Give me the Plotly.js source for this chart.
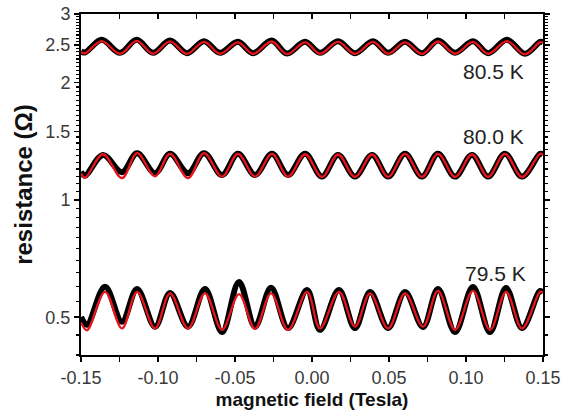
<!DOCTYPE html>
<html>
<head>
<meta charset="utf-8">
<script src="https://cdn.plot.ly/plotly-3.0.1.min.js"></script>
<style>html,body{margin:0;padding:0;background:#fff;}#plot{width:578px;height:416px;}</style>
</head>
<body>
<div id="plot"></div>
<script>
// ---- data ----
const x805 = [-0.15, -0.1474, -0.1366, -0.1247, -0.1138, -0.1032, -0.0922, -0.0812, -0.0701, -0.0597, -0.0481, -0.0383, -0.0262, -0.0162, -0.0045, 0.0052, 0.0169, 0.0279, 0.0396, 0.0494, 0.0604, 0.0714, 0.0818, 0.0929, 0.1045, 0.1143, 0.1266, 0.1383, 0.1481, 0.15];
const black805 = [2.408, 2.390, 2.575, 2.385, 2.575, 2.385, 2.565, 2.380, 2.555, 2.385, 2.545, 2.380, 2.565, 2.375, 2.545, 2.385, 2.555, 2.380, 2.555, 2.385, 2.545, 2.380, 2.565, 2.385, 2.555, 2.380, 2.575, 2.371, 2.545, 2.540];
const red805   = [2.395, 2.378, 2.555, 2.372, 2.560, 2.372, 2.552, 2.370, 2.545, 2.372, 2.538, 2.370, 2.550, 2.366, 2.538, 2.372, 2.545, 2.370, 2.545, 2.372, 2.538, 2.370, 2.550, 2.372, 2.545, 2.370, 2.555, 2.364, 2.540, 2.535];

const x800 = [-0.15, -0.1474, -0.1357, -0.1234, -0.1136, -0.1019, -0.0922, -0.0805, -0.0701, -0.0584, -0.0481, -0.0370, -0.0260, -0.0156, -0.0045, 0.0065, 0.0169, 0.0279, 0.0390, 0.0494, 0.0604, 0.0714, 0.0818, 0.0929, 0.1039, 0.1143, 0.1253, 0.1364, 0.1481, 0.15];
const black800 = [1.182, 1.155, 1.305, 1.178, 1.318, 1.171, 1.313, 1.171, 1.318, 1.159, 1.313, 1.159, 1.313, 1.159, 1.313, 1.148, 1.305, 1.148, 1.305, 1.148, 1.313, 1.148, 1.313, 1.148, 1.305, 1.148, 1.313, 1.148, 1.313, 1.310];
const red800   = [1.170, 1.140, 1.310, 1.137, 1.318, 1.150, 1.313, 1.137, 1.318, 1.148, 1.313, 1.148, 1.313, 1.148, 1.310, 1.145, 1.308, 1.145, 1.308, 1.145, 1.313, 1.145, 1.313, 1.145, 1.308, 1.145, 1.313, 1.145, 1.313, 1.305];

const x795 = [-0.15, -0.1461, -0.1344, -0.1234, -0.1136, -0.1019, -0.0922, -0.0805, -0.0695, -0.0584, -0.0474, -0.0370, -0.0266, -0.0156, -0.0032, 0.0052, 0.0175, 0.0279, 0.0377, 0.0494, 0.0604, 0.0721, 0.0818, 0.0929, 0.1045, 0.1156, 0.1260, 0.1364, 0.1481, 0.15];
const black795 = [0.501, 0.478, 0.599, 0.487, 0.591, 0.473, 0.577, 0.473, 0.591, 0.458, 0.616, 0.473, 0.595, 0.469, 0.587, 0.464, 0.587, 0.469, 0.580, 0.469, 0.580, 0.472, 0.591, 0.458, 0.598, 0.458, 0.594, 0.469, 0.584, 0.577];
const red795   = [0.485, 0.463, 0.581, 0.468, 0.581, 0.468, 0.576, 0.468, 0.576, 0.464, 0.573, 0.467, 0.576, 0.464, 0.581, 0.468, 0.581, 0.473, 0.576, 0.468, 0.576, 0.473, 0.584, 0.464, 0.584, 0.464, 0.581, 0.468, 0.581, 0.578];

const labels = ["80.5 K", "80.0 K", "79.5 K"];
const xTickVals = [-0.15, -0.10, -0.05, 0.00, 0.05, 0.10, 0.15];
const xTickText = ["-0.15", "-0.10", "-0.05", "0.00", "0.05", "0.10", "0.15"];
const yTickVals = [0.5, 1, 1.5, 2, 2.5, 3];
const yTickText = ["0.5", "1", "1.5", "2", "2.5", "3"];

// minor tick positions (axis decoration)
const yMinor = [];
for (let v = 0.40; v <= 3.0001; v += 0.05) {
  const r = Math.round(v * 100) / 100;
  if (!yTickVals.some(t => Math.abs(t - r) < 1e-6)) yMinor.push(r);
}
const xMinor = [-0.125, -0.075, -0.025, 0.025, 0.075, 0.125];
const xTopTicks = [-0.125, -0.10, -0.075, -0.05, -0.025, 0, 0.025, 0.05, 0.075, 0.10, 0.125];

const BLACK = '#000000', RED = '#e8161c';
function blk(x, y) { return {x: x, y: y, mode: 'lines', line: {color: BLACK, width: 6, shape: 'spline', smoothing: 1}, showlegend: false, hoverinfo: 'skip'}; }
function red(x, y) { return {x: x, y: y, mode: 'lines', line: {color: RED, width: 2.3, shape: 'spline', smoothing: 1}, showlegend: false, hoverinfo: 'skip'}; }

const traces = [
  blk(x805, black805), blk(x800, black800), blk(x795, black795),
  red(x805, red805), red(x800, red800), red(x795, red795),
  {x: [], y: [], xaxis: 'x2', yaxis: 'y', mode: 'lines', showlegend: false}
];

const FONT = 'Arial, "Liberation Sans", sans-serif';
const tickFont = {family: FONT, size: 18, color: '#3a3a3a'};
const annFont = {family: FONT, size: 21, color: '#222'};
const layout = {
  width: 578, height: 416,
  margin: {l: 81, r: 35, t: 14, b: 61},
  paper_bgcolor: '#ffffff', plot_bgcolor: '#ffffff',
  xaxis: {
    range: [-0.15, 0.15], showgrid: false, zeroline: false,
    showline: true, linecolor: '#000', linewidth: 2, mirror: true,
    tickmode: 'array', tickvals: xTickVals, ticktext: xTickText,
    ticks: 'outside', ticklen: 5, tickwidth: 1.5, tickcolor: '#000',
    minor: {tickmode: 'array', tickvals: xMinor, ticks: 'outside', ticklen: 5, tickwidth: 1.5, tickcolor: '#000', showgrid: false},
    tickfont: tickFont,
    title: {text: 'magnetic field (Tesla)', font: {family: FONT, size: 19, color: '#111', weight: 'bold'}, standoff: 6}
  },
  xaxis2: {
    overlaying: 'x', side: 'top', range: [-0.15, 0.15], showgrid: false, zeroline: false,
    showline: false, showticklabels: false,
    tickmode: 'array', tickvals: xTopTicks, ticks: 'inside', ticklen: 5, tickwidth: 1.5, tickcolor: '#000'
  },
  yaxis: {
    type: 'log', range: [Math.log10(0.4), Math.log10(3)], showgrid: false, zeroline: false,
    showline: true, linecolor: '#000', linewidth: 2, mirror: 'ticks',
    tickmode: 'array', tickvals: yTickVals, ticktext: yTickText,
    ticks: 'outside', ticklen: 5, tickwidth: 1.5, tickcolor: '#000',
    minor: {tickmode: 'array', tickvals: yMinor, ticks: 'outside', ticklen: 3, tickwidth: 1.2, tickcolor: '#000', showgrid: false},
    tickfont: tickFont,
    title: {text: 'resistance (Ω)', font: {family: FONT, size: 24, color: '#111', weight: 'bold'}, standoff: 6}
  },
  annotations: [
    {text: labels[0], xref: 'paper', yref: 'paper', x: 0.892, y: 0.830, xanchor: 'center', yanchor: 'middle', showarrow: false, font: annFont},
    {text: labels[1], xref: 'paper', yref: 'paper', x: 0.892, y: 0.642, xanchor: 'center', yanchor: 'middle', showarrow: false, font: annFont},
    {text: labels[2], xref: 'paper', yref: 'paper', x: 0.897, y: 0.240, xanchor: 'center', yanchor: 'middle', showarrow: false, font: annFont}
  ]
};

Plotly.newPlot('plot', traces, layout, {staticPlot: true, displayModeBar: false});
</script>
</body>
</html>
